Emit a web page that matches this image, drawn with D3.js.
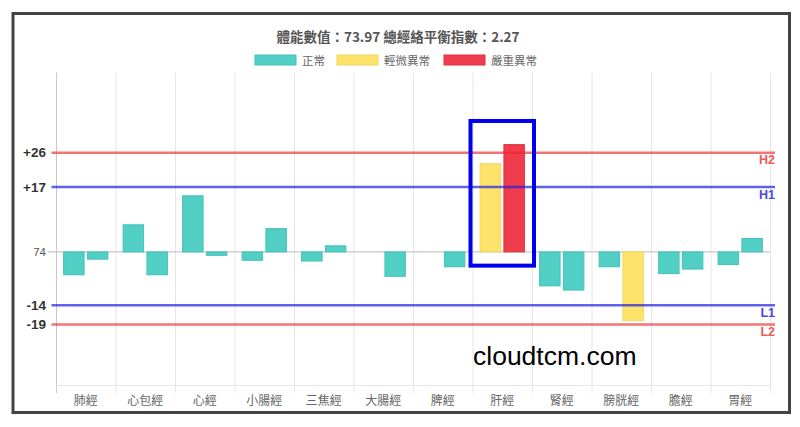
<!DOCTYPE html>
<html>
<head>
<meta charset="utf-8">
<script src="https://cdn.jsdelivr.net/npm/d3@7"></script>
<style>
  html, body { margin: 0; padding: 0; background: #fff; }
  svg { display: block; }
</style>
</head>
<body>
<svg id="chart" width="800" height="427"></svg>
<script>
// ---------- data ----------
const categories = ['肺經','心包經','心經','小腸經','三焦經','大腸經','脾經','肝經','腎經','膀胱經','膽經','胃經'];
const leftValues  = [-6.0, 7.1, 14.7, -2.2, -2.4, null, null, 23.1, -8.9, -3.9, -5.7, -3.3];
const rightValues = [-1.9, -6.0, -0.9, 6.1, 1.6, -6.4, -3.9, 28.1, -10.0, -18.0, -4.5, 3.5];
const thresholds = [
  { name: 'H2', value: 26,  label: '+26', color: 'rgba(238,40,40,0.65)', text: '#ee5a5a' },
  { name: 'H1', value: 17,  label: '+17', color: 'rgba(30,30,230,0.7)',  text: '#4a4ae6' },
  { name: 'L1', value: -14, label: '-14', color: 'rgba(30,30,230,0.7)',  text: '#4a4ae6' },
  { name: 'L2', value: -19, label: '-19', color: 'rgba(238,40,40,0.65)', text: '#ee5a5a' }
];
const baseLabel = '74';
const legendItems = ['正常', '輕微異常', '嚴重異常'];
const statusColors = ['#52cfc5', '#fde36a', '#ef3d4d'];
const statusStroke = ['#44c3b9', '#f3d760', '#e0303f'];
const titleText = '體能數值：73.97 總經絡平衡指數：2.27';
const watermark = 'cloudtcm.com';
const highlightCategory = '肝經';

// ---------- layout ----------
const svg = d3.select('#chart');
const cjk = '"Noto Sans CJK TC", "Noto Sans CJK SC", "Liberation Sans", sans-serif';

// frame
svg.append('rect').attr('x', 13).attr('y', 13.5).attr('width', 776.5).attr('height', 399)
  .attr('fill', '#fff').attr('stroke', '#444').attr('stroke-width', 3);

const x0 = d3.scaleBand().domain(categories).range([56, 770]).paddingInner(0).paddingOuter(0);
const bw = x0.bandwidth();
const x1 = d3.scaleBand().domain([0, 1]).range([bw * 0.128, bw * 0.872]).paddingInner(0.14);
const y = d3.scaleLinear().domain([-35, 47]).range([385.5, 72.5]);

function status(v) {
  const a = v >= 0 ? [17, 26] : [14, 19];
  const m = Math.abs(v);
  return m > a[1] ? 2 : m > a[0] ? 1 : 0;
}

// vertical grid lines at category boundaries
const bounds = categories.map(c => x0(c)).concat([x0.range()[1]]);
svg.append('g').selectAll('line').data(bounds).join('line')
  .attr('x1', d => d + 0.5).attr('x2', d => d + 0.5)
  .attr('y1', y.range()[1]).attr('y2', 393)
  .attr('stroke', d => d === bounds[0] ? '#c8c8c8' : '#e6e6e6').attr('stroke-width', 1);

// x axis line
svg.append('line').attr('x1', 56).attr('x2', 770).attr('y1', y(-35)).attr('y2', y(-35))
  .attr('stroke', '#e6e6e6');

// zero line
svg.append('line').attr('x1', 48).attr('x2', 770).attr('y1', y(0)).attr('y2', y(0))
  .attr('stroke', '#c9c9c9').attr('stroke-width', 1.2);

// bars
const series = [leftValues, rightValues];
const barData = [];
categories.forEach((c, i) => {
  series.forEach((s, k) => {
    if (s[i] !== null && s[i] !== undefined) barData.push({ c, k, v: s[i], st: status(s[i]) });
  });
});
svg.append('g').selectAll('rect').data(barData).join('rect')
  .attr('x', d => x0(d.c) + x1(d.k))
  .attr('width', x1.bandwidth())
  .attr('y', d => y(Math.max(0, d.v)))
  .attr('height', d => Math.abs(y(d.v) - y(0)))
  .attr('fill', d => statusColors[d.st])
  .attr('stroke', d => statusStroke[d.st]).attr('stroke-width', 1);

// threshold lines
const tg = svg.append('g');
tg.selectAll('line').data(thresholds).join('line')
  .attr('x1', 51.5).attr('x2', 775)
  .attr('y1', d => y(d.value)).attr('y2', d => y(d.value))
  .attr('stroke', d => d.color).attr('stroke-width', 2.5);
tg.selectAll('text').data(thresholds).join('text')
  .attr('x', 775).attr('y', d => y(d.value) + 11.5)
  .attr('text-anchor', 'end')
  .attr('font-family', '"Liberation Sans", Arial, sans-serif')
  .attr('font-size', 12.5).attr('font-weight', 'bold')
  .attr('fill', d => d.text).text(d => d.name);

// y axis labels
const yTicks = [0].concat(thresholds.map(t => t.value));
const yAxis = d3.axisLeft(y).tickValues(yTicks).tickSize(0).tickPadding(0)
  .tickFormat(v => v === 0 ? baseLabel : thresholds.find(t => t.value === v).label);
const ya = svg.append('g').attr('transform', 'translate(46,0)').call(yAxis);
ya.select('.domain').remove();
ya.selectAll('text')
  .attr('font-family', '"Liberation Sans", Arial, sans-serif')
  .attr('font-size', v => v === 0 ? 11.5 : 13.5)
  .attr('font-weight', v => v === 0 ? 'normal' : 'bold')
  .attr('fill', v => v === 0 ? '#555' : '#333');

// x axis labels
const xAxis = d3.axisBottom(x0).tickSize(0).tickPadding(0);
const xa = svg.append('g').attr('transform', 'translate(0,396)').call(xAxis);
xa.select('.domain').remove();
xa.selectAll('text')
  .attr('font-family', cjk).attr('font-size', 12).attr('fill', '#666');

// highlight box
svg.append('rect')
  .attr('x', x0(highlightCategory) - 2)
  .attr('y', y(34.3))
  .attr('width', bw + 4)
  .attr('height', y(-3.6) - y(34.3))
  .attr('fill', 'none').attr('stroke', '#0000ee').attr('stroke-width', 4);

// title
svg.append('text').attr('x', 398).attr('y', 41.5).attr('text-anchor', 'middle')
  .attr('font-family', cjk).attr('font-size', 13.5).attr('font-weight', 'bold')
  .attr('fill', '#555').text(titleText);

// legend
const legendX = [255, 337, 444];
const lg = svg.append('g');
legendItems.forEach((t, i) => {
  lg.append('rect').attr('x', legendX[i]).attr('y', 55).attr('width', 41).attr('height', 10)
    .attr('fill', statusColors[i]).attr('stroke', statusStroke[i]).attr('stroke-width', 1);
  lg.append('text').attr('x', legendX[i] + 47).attr('y', 64.5)
    .attr('font-family', cjk).attr('font-size', 11.5).attr('fill', '#666').text(t);
});

// watermark
svg.append('text').attr('x', 473).attr('y', 365)
  .attr('font-family', '"Liberation Sans", Arial, sans-serif')
  .attr('font-size', 26.5).attr('fill', '#000').text(watermark);
</script>
</body>
</html>
